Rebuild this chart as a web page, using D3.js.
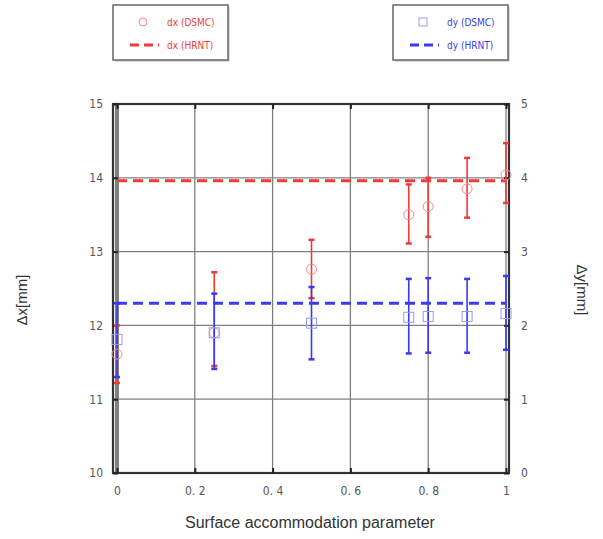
<!DOCTYPE html>
<html>
  <head>
    <script src="https://d3js.org/d3.v7.min.js"></script>
    <style>
      body { margin: 0; background: #fff; }
      text { font-family: "Liberation Sans", Arial, sans-serif; }
    </style>
  </head>
  <body>
    <script>
      var width = 603;
      var height = 539;

      // surface accommodation parameter
      var xValues = [0, 0.25, 0.5, 0.75, 0.8, 0.9, 1.0];
      // dx (DSMC) with error bar ends, left axis
      var dxMean = [11.61, 11.90, 12.76, 13.50, 13.61, 13.85, 14.04];
      var dxLow = [11.22, 11.45, 12.37, 13.11, 13.20, 13.46, 13.66];
      var dxHigh = [12.00, 12.72, 13.16, 13.91, 14.00, 14.27, 14.47];
      // dy (DSMC) with error bar ends, right axis
      var dyMean = [1.81, 1.90, 2.03, 2.11, 2.12, 2.12, 2.16];
      var dyLow = [1.30, 1.41, 1.54, 1.62, 1.63, 1.63, 1.67];
      var dyHigh = [2.30, 2.43, 2.52, 2.63, 2.64, 2.63, 2.67];
      // HRNT values
      var dxHRNT = 13.96;
      var dyHRNT = 2.30;

      var xTicks = [0, 0.2, 0.4, 0.6, 0.8, 1];
      var xTickLabels = ["0", "0. 2", "0. 4", "0. 6", "0. 8", "1"];
      var yLeftTicks = [10, 11, 12, 13, 14, 15];
      var yRightTicks = [0, 1, 2, 3, 4, 5];

      var box = {left: 113, right: 509, top: 104, bottom: 473};
      var red = "#f03a3a";
      var blue = "#3a3af0";

      var svg = d3.select("body")
        .append("svg")
        .attr("width", width)
        .attr("height", height);

      var xScale = d3.scaleLinear()
        .domain([0, 1])
        .range([117, 506]);

      var yLeft = d3.scaleLinear()
        .domain([10, 15])
        .range([box.bottom, box.top]);

      var yRight = d3.scaleLinear()
        .domain([0, 5])
        .range([box.bottom, box.top]);

      // grid
      svg.append("g")
        .selectAll("line")
        .data(xTicks)
        .enter()
        .append("line")
          .attr("x1", function(d) { return xScale(d); })
          .attr("x2", function(d) { return xScale(d); })
          .attr("y1", box.top)
          .attr("y2", box.bottom)
          .attr("stroke", "#808080")
          .attr("stroke-width", function(d) { return d == 0 ? 4 : 1.3; });

      svg.append("g")
        .selectAll("line")
        .data(yLeftTicks.slice(1, 5))
        .enter()
        .append("line")
          .attr("x1", box.left)
          .attr("x2", box.right)
          .attr("y1", function(d) { return yLeft(d); })
          .attr("y2", function(d) { return yLeft(d); })
          .attr("stroke", "#808080")
          .attr("stroke-width", 1.3);

      // frame
      svg.append("rect")
        .attr("x", box.left)
        .attr("y", box.top)
        .attr("width", box.right - box.left)
        .attr("height", box.bottom - box.top)
        .attr("fill", "none")
        .attr("stroke", "#333")
        .attr("stroke-width", 2.2);

      // axes with inward ticks
      var axisLeft = svg.append("g")
        .attr("transform", `translate(${box.left},0)`)
        .call(d3.axisRight(yLeft).tickValues(yLeftTicks).tickSize(5).tickFormat(d3.format("d")));
      axisLeft.selectAll("text")
        .attr("x", -10)
        .attr("text-anchor", "end");

      var axisRight = svg.append("g")
        .attr("transform", `translate(${box.right},0)`)
        .call(d3.axisLeft(yRight).tickValues(yRightTicks).tickSize(5).tickFormat(d3.format("d")));
      axisRight.selectAll("text")
        .attr("x", 12)
        .attr("text-anchor", "start");

      var axisBottom = svg.append("g")
        .attr("transform", `translate(0,${box.bottom})`)
        .call(d3.axisTop(xScale).tickValues(xTicks).tickSize(5).tickFormat(function(d, i) { return xTickLabels[i]; }));
      axisBottom.selectAll("text")
        .attr("y", 22)
        .attr("dy", 0);

      var axisTop = svg.append("g")
        .attr("transform", `translate(0,${box.top})`)
        .call(d3.axisBottom(xScale).tickValues(xTicks).tickSize(5).tickFormat(""));

      svg.selectAll(".domain").remove();
      svg.selectAll(".tick line").attr("stroke", "#222").attr("stroke-width", 2);
      svg.selectAll(".tick text")
        .attr("fill", "#555")
        .style("font-size", "12px")
        .style("font-family", "'DejaVu Sans Condensed', 'DejaVu Sans', sans-serif");

      // HRNT dashed lines
      svg.append("line")
        .attr("x1", xScale(0))
        .attr("x2", xScale(1))
        .attr("y1", yLeft(dxHRNT))
        .attr("y2", yLeft(dxHRNT))
        .attr("stroke", red)
        .attr("stroke-width", 3)
        .attr("stroke-dasharray", "10,6");

      svg.append("line")
        .attr("x1", xScale(0))
        .attr("x2", xScale(1))
        .attr("y1", yRight(dyHRNT))
        .attr("y2", yRight(dyHRNT))
        .attr("stroke", blue)
        .attr("stroke-width", 3)
        .attr("stroke-dasharray", "10,6");

      function errorBars(lows, highs, scale, color) {
        var g = svg.append("g");
        xValues.forEach(function(x, i) {
          var px = xScale(x);
          g.append("line")
            .attr("x1", px).attr("x2", px)
            .attr("y1", scale(lows[i])).attr("y2", scale(highs[i]))
            .attr("stroke", color).attr("stroke-width", 1.6);
          [lows[i], highs[i]].forEach(function(v) {
            g.append("line")
              .attr("x1", px - 3).attr("x2", px + 3)
              .attr("y1", scale(v)).attr("y2", scale(v))
              .attr("stroke", color).attr("stroke-width", 2.5);
          });
        });
      }

      errorBars(dxLow, dxHigh, yLeft, red);
      errorBars(dyLow, dyHigh, yRight, blue);

      // DSMC markers
      svg.append("g")
        .selectAll("circle")
        .data(dxMean)
        .enter()
        .append("circle")
          .attr("cx", function(d, i) { return xScale(xValues[i]); })
          .attr("cy", function(d) { return yLeft(d); })
          .attr("r", 5)
          .attr("fill", "none")
          .attr("stroke", "#f08a8a")
          .attr("stroke-width", 1);

      svg.append("g")
        .selectAll("rect")
        .data(dyMean)
        .enter()
        .append("rect")
          .attr("x", function(d, i) { return xScale(xValues[i]) - 5; })
          .attr("y", function(d) { return yRight(d) - 5; })
          .attr("width", 10)
          .attr("height", 10)
          .attr("fill", "none")
          .attr("stroke", "#9a9af0")
          .attr("stroke-width", 1);

      // legends
      function legend(x0, color, markerType, label1, label2, markerColor) {
        var g = svg.append("g").attr("transform", `translate(${x0},5)`);
        g.append("rect")
          .attr("x", 2).attr("y", 2)
          .attr("width", 115).attr("height", 55)
          .attr("fill", "#ddd");
        g.append("rect")
          .attr("x", 0).attr("y", 0)
          .attr("width", 115).attr("height", 55)
          .attr("fill", "#fff")
          .attr("stroke", "#666")
          .attr("stroke-width", 1.5);
        if (markerType == "circle") {
          g.append("circle").attr("cx", 30).attr("cy", 17).attr("r", 4)
            .attr("fill", "none").attr("stroke", markerColor);
        } else {
          g.append("rect").attr("x", 26).attr("y", 13).attr("width", 8).attr("height", 8)
            .attr("fill", "none").attr("stroke", markerColor);
        }
        g.append("line")
          .attr("x1", 17).attr("x2", 46)
          .attr("y1", 40).attr("y2", 40)
          .attr("stroke", color).attr("stroke-width", 3)
          .attr("stroke-dasharray", "9,5");
        [label1, label2].forEach(function(t, i) {
          g.append("text")
            .attr("x", 54)
            .attr("y", 21 + i * 23)
            .attr("fill", color)
            .style("font-size", "10px")
            .style("font-family", "'DejaVu Sans Condensed', sans-serif")
            .text(t);
        });
      }

      legend(113, red, "circle", "dx (DSMC)", "dx (HRNT)", "#f08a8a");
      legend(393, blue, "square", "dy (DSMC)", "dy (HRNT)", "#9a9af0");

      // axis titles
      svg.append("text")
        .attr("x", 310)
        .attr("y", 528)
        .attr("text-anchor", "middle")
        .attr("fill", "#333")
        .style("font-size", "16px")
        .text("Surface accommodation parameter");

      svg.append("text")
        .attr("transform", "translate(27,300) rotate(-90)")
        .attr("text-anchor", "middle")
        .attr("fill", "#333")
        .style("font-size", "15px")
        .text("\u0394x[mm]");

      svg.append("text")
        .attr("transform", "translate(577,290) rotate(90)")
        .attr("text-anchor", "middle")
        .attr("fill", "#333")
        .style("font-size", "15px")
        .text("\u0394y[mm]");
    </script>
  </body>
</html>
